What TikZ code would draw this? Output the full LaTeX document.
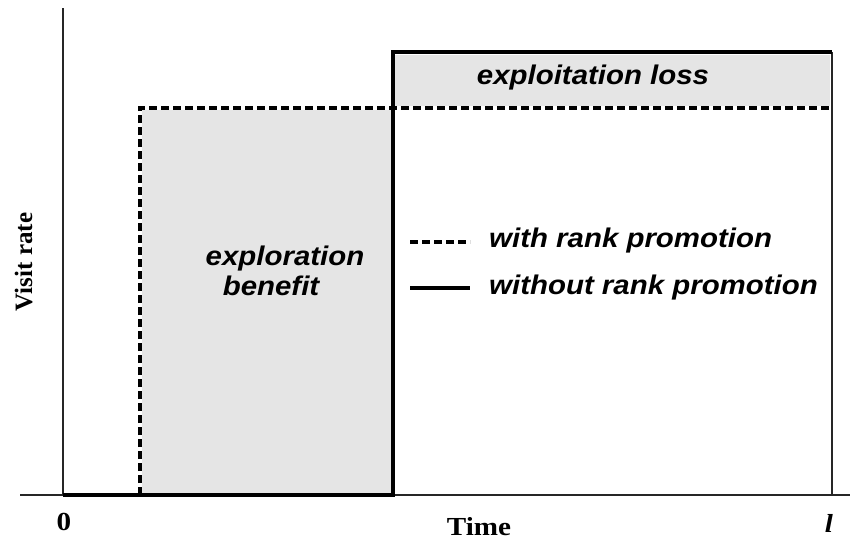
\documentclass[tikz,border=0pt]{standalone}
\usepackage{graphicx}
\usepackage{fontspec}
\setmainfont{Liberation Serif}
\setsansfont{Liberation Sans}
\newcommand{\wid}[1]{\scalebox{1.09}[1]{#1}}
\newcommand{\widb}[1]{\scalebox{1.12}[1]{#1}}
\begin{document}
\begin{tikzpicture}[x=1pt,y=-1pt,
  lbl/.style={font=\sffamily\bfseries\itshape\fontsize{27}{30}\selectfont, inner sep=0pt},
  axlbl/.style={font=\rmfamily\bfseries\fontsize{26}{28}\selectfont, inner sep=0pt},
  thinline/.style={line width=1.6pt, black!85},
  withline/.style={line width=4pt, dash pattern=on 8pt off 4pt},
  withoutline/.style={line width=4pt},
  area/.style={fill=black!10, draw=none}]
\useasboundingbox (0,0) rectangle (850,543);
% coordinates
\coordinate (O) at (63,495);
\coordinate (Ytop) at (63,8);
\coordinate (Xl) at (20,495);
\coordinate (Xr) at (850,495);
\coordinate (Rb) at (832,495);
\coordinate (Rt) at (832,52);
\coordinate (W0) at (140,495);
\coordinate (W1) at (140,108);
\coordinate (W2) at (832,108);
\coordinate (S0) at (393,495);
\coordinate (S1) at (393,52);
% shaded areas
\fill[area] (142,110) rectangle (391,493);
\fill[area] (395,55) rectangle (830,106);
% axes
\draw[thinline] (Xl) -- (Xr);
\draw[thinline] (O) -- (Ytop);
\draw[thinline] (Rb) -- (Rt);
% curves
\draw[withoutline] (O) -- (S0) -- (S1) -- (Rt);
\draw[withline] (W0) -- (W1) -- (W2);
% legend
\coordinate (L1a) at (410,242);
\coordinate (L1b) at (470,242);
\coordinate (L2a) at (410,288);
\coordinate (L2b) at (470,288);
\draw[withline] (L1a) -- (L1b);
\draw[withoutline] (L2a) -- (L2b);
\node[lbl, anchor=base west] (t1) at (489,247) {\wid{with rank promotion}};
\node[lbl, anchor=base west] (t2) at (489,294) {\wid{without rank promotion}};
% area labels
\node[lbl, anchor=base] (loss) at (593,84) {\wid{exploitation loss}};
\node[lbl, anchor=base] (ex1) at (285,265) {\wid{exploration}};
\node[lbl, anchor=base] (ex2) at (271,295) {\wid{benefit}};
% axis labels
\node[axlbl, anchor=base] (zero) at (64,530) {\widb{0}};
\node[axlbl, anchor=base] (time) at (479,535) {\widb{Time}};
\node[axlbl, anchor=base] (ell) at (829,532) {\widb{\itshape l}};
\node[axlbl, anchor=base, rotate=90, font=\rmfamily\bfseries\fontsize{25}{28}\selectfont] (visit) at (32,262) {Visit rate};
\end{tikzpicture}
\end{document}
